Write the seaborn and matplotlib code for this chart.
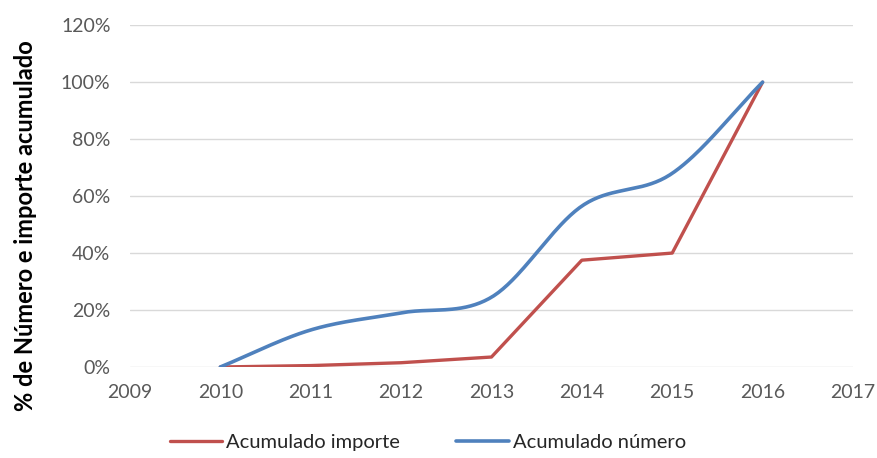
import numpy as np
import pandas as pd
import matplotlib
matplotlib.use("Agg")
import matplotlib.pyplot as plt
import seaborn as sns
from matplotlib.ticker import PercentFormatter

years = [2010, 2011, 2012, 2013, 2014, 2015, 2016]
acumulado_importe = [0.0, 0.005, 0.015, 0.035, 0.375, 0.40, 1.0]
acumulado_numero = [0.0, 0.13, 0.19, 0.245, 0.565, 0.68, 1.0]
series_names = ["Acumulado importe", "Acumulado número"]
y_label = "% de Número e importe acumulado"
x_ticks = [2009, 2010, 2011, 2012, 2013, 2014, 2015, 2016, 2017]
y_ticks = [0, 0.2, 0.4, 0.6, 0.8, 1.0, 1.2]

RED = "#C0504D"
BLUE = "#4F81BD"


def smooth(xs, ys, n=40):
    """Excel-like smoothed line (Bezier segments through the data points)."""
    xs = np.asarray(xs, float)
    ys = np.asarray(ys, float)
    px = np.concatenate([[2 * xs[0] - xs[1]], xs, [2 * xs[-1] - xs[-2]]])
    py = np.concatenate([[2 * ys[0] - ys[1]], ys, [2 * ys[-1] - ys[-2]]])
    outx, outy = [], []
    t = np.linspace(0, 1, n)
    for i in range(1, len(px) - 2):
        for arr, out in ((px, outx), (py, outy)):
            p0, p1, p2, p3 = arr[i - 1], arr[i], arr[i + 1], arr[i + 2]
            c1 = p1 + (p2 - p0) / 6
            c2 = p2 - (p3 - p1) / 6
            b = ((1 - t) ** 3 * p1 + 3 * (1 - t) ** 2 * t * c1
                 + 3 * (1 - t) * t ** 2 * c2 + t ** 3 * p2)
            out.extend(b if i == 1 else b[1:])
    return np.array(outx), np.array(outy)


sns.set_theme(style="white")
plt.rcParams["font.family"] = ["Lato", "DejaVu Sans"]

fig = plt.figure(figsize=(8.78, 4.58), dpi=100)
ax = fig.add_axes([0.148, 0.1987, 0.8235, 0.7463])

df_imp = pd.DataFrame({"year": years, "value": acumulado_importe})
sns.lineplot(data=df_imp, x="year", y="value", ax=ax, color=RED,
             linewidth=2.4, label=series_names[0])

sx, sy = smooth(years, acumulado_numero)
df_num = pd.DataFrame({"year": sx, "value": sy})
sns.lineplot(data=df_num, x="year", y="value", ax=ax, color=BLUE,
             linewidth=2.6, label=series_names[1], sort=False)

ax.set_xlim(2009, 2017)
ax.set_ylim(0, 1.2)
ax.set_xticks(x_ticks)
ax.set_xticklabels([str(v) for v in x_ticks])
ax.set_yticks(y_ticks)
ax.yaxis.set_major_formatter(PercentFormatter(1.0, decimals=0))
ax.grid(axis="y", color="#D9D9D9", linewidth=1)
ax.grid(axis="x", visible=False)
for s in ax.spines.values():
    s.set_visible(False)
ax.tick_params(axis="both", length=0, labelsize=14, colors="#595959")
ax.tick_params(axis="x", pad=12)
ax.tick_params(axis="y", pad=14)
ax.set_xlabel("")
ax.set_ylabel(y_label, fontsize=17, fontweight="bold", color="black")
ax.yaxis.set_label_coords(-0.128, 0.415)

ax.get_legend().remove()
handles, labels = ax.get_legend_handles_labels()
fig.legend(handles, labels, loc="lower center", ncol=2,
           bbox_to_anchor=(0.487, -0.025), frameon=False, fontsize=14.5,
           handlelength=2.6, handletextpad=0.2, columnspacing=2.8)

fig.savefig("out.png", dpi=100)
